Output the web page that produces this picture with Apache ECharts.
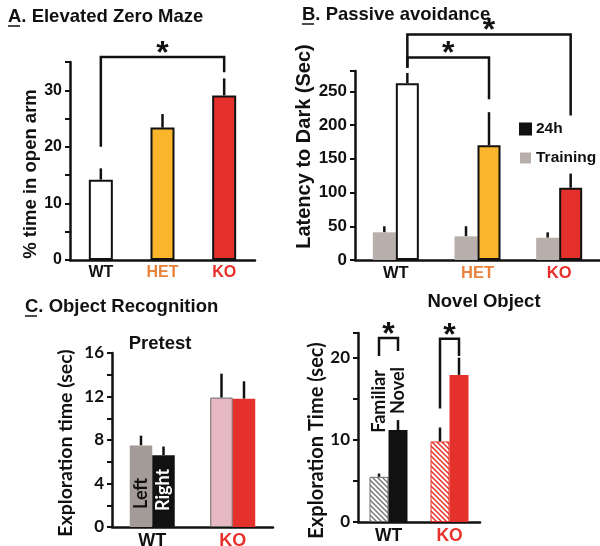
<!DOCTYPE html>
<html>
<head>
<meta charset="utf-8">
<script src="https://cdn.jsdelivr.net/npm/echarts@6/dist/echarts.min.js"></script>
<style>
  html, body { margin: 0; background: #fff; }
  #chart { width: 600px; height: 546px; }
</style>
</head>
<body>
<div id="chart"></div>
<script>
// A. Elevated zero maze
const genotypes = ['WT', 'HET', 'KO'];
const mazeTime = [14.2, 23.4, 29.1];
const mazeErr = [16.2, 25.8, 32.1];
const mazeTicks = [0, 10, 20, 30];
// [fromCat, fromBar, toCat, toBar, top, leftEnd, rightEnd]
const mazeBrackets = [[0, 0, 2, 0, 35.9, 20, 33.2]];

// B. Passive avoidance
const avoidTraining = [41, 35, 33];
const avoidTrainingErr = [50, 50, 41];
const avoid24h = [262, 170, 107];
const avoid24hErr = [277, 219, 128];
const avoidTicks = [0, 50, 100, 150, 200, 250];
const avoidBrackets = [
  [0, 1, 1, 1, 300, 285, 238],
  [0, 1, 2, 1, 334, 285, 214]
];

// C. Object recognition
const objGroups = ['WT', 'KO'];
const sideNames = ['Left', 'Right'];
const pretestLeft = [7.5, 11.9];
const pretestLeftErr = [8.4, 14.1];
const pretestRight = [6.6, 11.8];
const pretestRightErr = [7.4, 13.4];
const pretestTicks = [0, 4, 8, 12, 16];

const objectNames = ['Familiar', 'Novel'];
const novelFamiliar = [5.5, 9.8];
const novelFamiliarErr = [5.9, 11.5];
const novelNovel = [11.2, 17.9];
const novelNovelErr = [12.4, 20.0];
const novelTicks = [0, 10, 20];
const novelBrackets = [
  [0, -1, 0, 1, 22.4, 20.2, 20.8],
  [1, -1, 1, 1, 22.3, 13.8, 20.2]
];

const INK = '#111111';
const ARIAL = 'Liberation Sans';
const CALI = 'Lato';
const genoColor = { WT: INK, HET: '#E8823A', KO: '#E8302A' };

function hatch(color) {
  const c = document.createElement('canvas');
  c.width = c.height = 5;
  const g = c.getContext('2d');
  g.fillStyle = '#fff';
  g.fillRect(0, 0, 5, 5);
  g.strokeStyle = color;
  g.lineWidth = 1.5;
  g.beginPath();
  g.moveTo(-1, -1); g.lineTo(6, 6);
  g.moveTo(-1, 4); g.lineTo(1, 6);
  g.moveTo(4, -1); g.lineTo(6, 1);
  g.stroke();
  return { image: c, repeat: 'repeat' };
}

function xAx(gi, cats, fs, inside) {
  return {
    type: 'category', gridIndex: gi,
    data: cats.map(c => ({ value: c, textStyle: { color: genoColor[c] } })),
    axisLine: { lineStyle: { color: INK, width: 2.5 } },
    axisTick: { length: 5, inside: !!inside, lineStyle: { color: INK, width: 2 } },
    axisLabel: { fontSize: fs, fontWeight: 'bold', fontFamily: ARIAL, margin: 5 },
    splitLine: { show: false }
  };
}

function yAx(gi, max, step, ticks, name, gap, pad, nameFs, fs, family) {
  return {
    type: 'value', gridIndex: gi, min: 0, max: max, interval: step,
    name: name, nameLocation: 'middle', nameGap: gap,
    nameTextStyle: { fontSize: nameFs, fontWeight: 'bold', color: INK, fontFamily: family, padding: pad },
    axisLine: { show: true, lineStyle: { color: INK, width: 2.5 } },
    axisTick: { show: true, length: 5, lineStyle: { color: INK, width: 2 } },
    axisLabel: {
      fontSize: fs, fontWeight: 'bold', color: INK, fontFamily: family, margin: 8,
      formatter: v => ticks.indexOf(v) >= 0 ? String(v) : ''
    },
    splitLine: { show: false }
  };
}

function errorSeries(gi, vals, errs, shift) {
  return {
    type: 'custom', xAxisIndex: gi, yAxisIndex: gi, z: 1, silent: true,
    data: vals.map((v, i) => [i, v, errs[i]]),
    encode: { x: 0, y: [1, 2] },
    renderItem: (params, api) => {
      const lo = api.coord([api.value(0), api.value(1)]);
      const hi = api.coord([api.value(0), api.value(2)]);
      const x = lo[0] + shift;
      return {
        type: 'line',
        shape: { x1: x, y1: lo[1], x2: x, y2: hi[1] },
        style: { stroke: INK, lineWidth: 2.5 }
      };
    }
  };
}

function bracketSeries(gi, list, half, starFs) {
  return {
    type: 'custom', xAxisIndex: gi, yAxisIndex: gi, z: 5, silent: true,
    data: list,
    encode: { x: 0, y: 4 },
    renderItem: (params, api) => {
      const x1 = api.coord([api.value(0), 0])[0] + api.value(1) * half;
      const x2 = api.coord([api.value(2), 0])[0] + api.value(3) * half;
      const yTop = api.coord([0, api.value(4)])[1];
      const yL = api.coord([0, api.value(5)])[1];
      const yR = api.coord([0, api.value(6)])[1];
      return {
        type: 'group',
        children: [
          {
            type: 'polyline',
            shape: { points: [[x1, yL], [x1, yTop], [x2, yTop], [x2, yR]] },
            style: { stroke: INK, lineWidth: 2.5, fill: null }
          },
          {
            type: 'text',
            style: {
              text: '*', x: (x1 + x2) / 2, y: yTop - 3,
              font: 'bold ' + starFs + 'px ' + ARIAL, fill: INK,
              align: 'center', verticalAlign: 'middle'
            }
          }
        ]
      };
    }
  };
}

function barLabel(text, pos, dist, color, fs) {
  return {
    show: true, formatter: text, position: pos, distance: dist, rotate: 90,
    align: 'left', verticalAlign: 'middle',
    fontSize: fs, fontWeight: 'bold', color: color, fontFamily: CALI
  };
}

function heading(text, left, top, center) {
  return {
    text: text, left: left, top: top, padding: 0, textAlign: center ? 'center' : 'left',
    textStyle: { fontSize: 18.5, fontWeight: 'bold', color: INK, fontFamily: ARIAL }
  };
}

const barMaze = ['#ffffff', '#FBB52B', '#E5312B'];

const option = {
  animation: false,
  textStyle: { fontFamily: ARIAL },
  title: [
    heading('A. Elevated Zero Maze', 8, 7),
    heading('B. Passive avoidance', 302, 5),
    heading('C. Object Recognition', 25, 297),
    heading('Pretest', 160, 334, true),
    heading('Novel Object', 484, 292, true)
  ],
  graphic: [
    { type: 'line', shape: { x1: 8, y1: 26, x2: 20, y2: 26 }, style: { stroke: INK, lineWidth: 1.5 } },
    { type: 'line', shape: { x1: 302, y1: 24, x2: 314, y2: 24 }, style: { stroke: INK, lineWidth: 1.5 } },
    { type: 'line', shape: { x1: 25, y1: 316, x2: 37, y2: 316 }, style: { stroke: INK, lineWidth: 1.5 } }
  ],
  legend: {
    data: ['24h', 'Training'], orient: 'vertical', left: 514, top: 116,
    itemWidth: 11, itemHeight: 11, itemGap: 13, icon: 'rect', selectedMode: false,
    textStyle: { fontSize: 15.5, fontWeight: 'bold', color: INK, fontFamily: ARIAL }
  },
  grid: [
    { left: 70, top: 62, width: 185, height: 198, outerBoundsMode: 'none' },
    { left: 355, top: 71, width: 245, height: 189, outerBoundsMode: 'none' },
    { left: 112, top: 353, width: 161, height: 174, outerBoundsMode: 'none' },
    { left: 358, top: 333, width: 122, height: 189, outerBoundsMode: 'none' }
  ],
  xAxis: [
    xAx(0, genotypes, 16),
    xAx(1, genotypes, 16.5),
    xAx(2, objGroups, 18, true),
    xAx(3, objGroups, 17.5)
  ],
  yAxis: [
    yAx(0, 35, 5, mazeTicks, '% time in open arm', 29, [0, 26, 0, 0], 18.5, 16, ARIAL),
    yAx(1, 280, 50, avoidTicks, 'Latency to Dark (Sec)', 32, [0, 0, 0, 38], 20, 17, ARIAL),
    yAx(2, 16, 2, pretestTicks, 'Exploration time (sec)', 36, [0, 6, 0, 0], 19.5, 17, CALI),
    yAx(3, 23, 5, novelTicks, 'Exploration Time (sec)', 31, [0, 26, 0, 0], 20, 17, CALI)
  ],
  series: [
    // A
    errorSeries(0, mazeTime, mazeErr, 0),
    {
      type: 'bar', xAxisIndex: 0, yAxisIndex: 0, barWidth: 24, z: 2,
      data: mazeTime.map((v, i) => ({ value: v, itemStyle: { color: barMaze[i] } })),
      itemStyle: { borderColor: INK, borderWidth: 2 }
    },
    bracketSeries(0, mazeBrackets, 0, 32),
    // B
    errorSeries(1, avoidTraining, avoidTrainingErr, -11.5),
    errorSeries(1, avoid24h, avoid24hErr, 11.5),
    {
      name: 'Training', type: 'bar', xAxisIndex: 1, yAxisIndex: 1, barWidth: 23, barGap: '0%', z: 2,
      data: avoidTraining,
      itemStyle: { color: '#B8AFAA' }
    },
    {
      name: '24h', type: 'bar', xAxisIndex: 1, yAxisIndex: 1, barWidth: 23, barGap: '0%', z: 2,
      data: avoid24h.map((v, i) => ({ value: v, itemStyle: { color: barMaze[i] } })),
      itemStyle: { color: INK, borderColor: INK, borderWidth: 2 }
    },
    bracketSeries(1, avoidBrackets, 11.5, 32),
    // C
    errorSeries(2, pretestLeft, pretestLeftErr, -11.25),
    errorSeries(2, pretestRight, pretestRightErr, 11.25),
    {
      type: 'bar', xAxisIndex: 2, yAxisIndex: 2, barWidth: 22.5, barGap: '0%', z: 2,
      data: [
        { value: pretestLeft[0], itemStyle: { color: '#A39B98' }, label: barLabel(sideNames[0], 'insideBottom', 18, INK, 18) },
        { value: pretestLeft[1], itemStyle: { color: '#E6B8C3', borderColor: '#6b6b6b', borderWidth: 1 } }
      ]
    },
    {
      type: 'bar', xAxisIndex: 2, yAxisIndex: 2, barWidth: 22.5, barGap: '0%', z: 2,
      data: [
        { value: pretestRight[0], itemStyle: { color: INK }, label: barLabel(sideNames[1], 'insideBottom', 16, '#ffffff', 18) },
        { value: pretestRight[1], itemStyle: { color: '#E5312B' } }
      ]
    },
    // D
    errorSeries(3, novelFamiliar, novelFamiliarErr, -9.5),
    errorSeries(3, novelNovel, novelNovelErr, 9.5),
    {
      type: 'bar', xAxisIndex: 3, yAxisIndex: 3, barWidth: 19, barGap: '0%', z: 2,
      data: [
        { value: novelFamiliar[0], itemStyle: { color: hatch('#7a7a7a'), borderColor: '#6f6f6f', borderWidth: 1 }, label: barLabel(objectNames[0], 'top', 44, INK, 18) },
        { value: novelFamiliar[1], itemStyle: { color: hatch('#E5312B'), borderColor: '#E5312B', borderWidth: 1 } }
      ]
    },
    {
      type: 'bar', xAxisIndex: 3, yAxisIndex: 3, barWidth: 19, barGap: '0%', z: 2,
      data: [
        { value: novelNovel[0], itemStyle: { color: INK }, label: barLabel(objectNames[1], 'top', 16, INK, 18) },
        { value: novelNovel[1], itemStyle: { color: '#E5312B' } }
      ]
    },
    bracketSeries(3, novelBrackets, 9.5, 32)
  ]
};

const chart = echarts.init(document.getElementById('chart'));
chart.setOption(option);
</script>
</body>
</html>
